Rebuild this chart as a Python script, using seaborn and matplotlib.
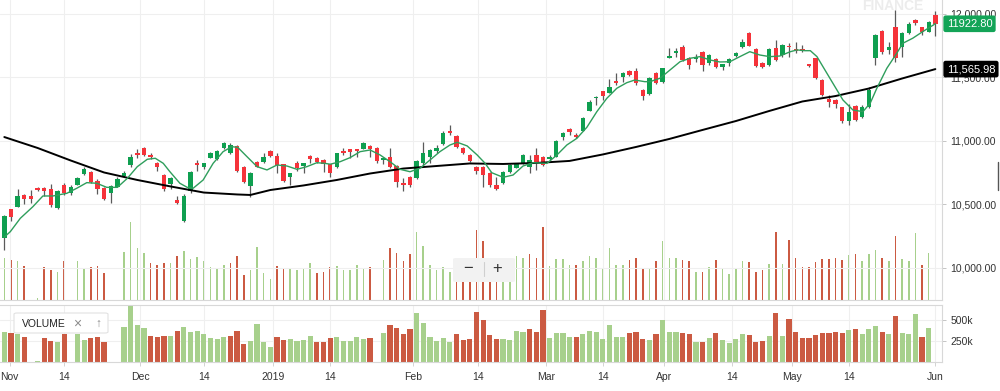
import numpy as np
import pandas as pd
import matplotlib
matplotlib.use("Agg")
import matplotlib.pyplot as plt
import matplotlib.transforms as mtransforms
from matplotlib.patches import FancyBboxPatch
from matplotlib.lines import Line2D
import seaborn as sns

# Daily candles, Nov 2018 - end of May 2019
opens = [10234, 10467, 10483, 10575, 10567, 10630, 10630, 10622, 10470, 10656,
         10593, 10656, 10738, 10756, 10687, 10632, 10588, 10640, 10724, 10811,
         10903, 10943, 10890, 10829, 10732, 10661, 10533, 10370, 10606, 10829,
         10798, 10869, 10856, 10943, 10908, 10961, 10793, 10646, 10837, 10835,
         10924, 10884, 10817, 10719, 10824, 10806, 10879, 10869, 10850, 10817,
         10793, 10920, 10935, 10935, 10937, 10963, 10947, 10850, 10872, 10803,
         10672, 10719, 10706, 10829, 10876, 10921, 10976, 11079, 11039, 10945,
         10890, 10798, 10798, 10750, 10653, 10672, 10758, 10790, 10824, 10793,
         10890, 10876, 10856, 10876, 11034, 11092, 11047, 11081, 11239, 11336,
         11392, 11380, 11475, 11502, 11554, 11554, 11402, 11370, 11538, 11467,
         11654, 11695, 11743, 11651, 11643, 11703, 11617, 11643, 11585, 11612,
         11669, 11738, 11853, 11722, 11612, 11598, 11735, 11677, 11750, 11722,
         11722, 11604, 11651, 11480, 11331, 11323, 11265, 11160, 11276, 11187,
         11265, 11651, 11869, 11717, 11900, 11743, 11848, 11953, 11895, 11861,
         11992]
highs = [10417, 10467, 10620, 10585, 10614, 10638, 10638, 10661, 10614, 10672,
         10654, 10719, 10793, 10760, 10698, 10640, 10650, 10719, 10766, 10898,
         10935, 10950, 10908, 10835, 10740, 10719, 10569, 10583, 10764, 10850,
         10830, 10912, 10928, 10994, 10982, 10971, 10800, 10758, 10845, 10903,
         10930, 10903, 10820, 10750, 10845, 10830, 10890, 10875, 10855, 10820,
         10908, 10943, 10940, 10940, 10990, 10968, 10952, 10876, 10943, 10810,
         10706, 10725, 10850, 10992, 10935, 10968, 11080, 11126, 11045, 10950,
         10895, 10803, 10803, 10758, 10719, 10762, 10815, 10820, 10895, 10890,
         10947, 10880, 10890, 11010, 11073, 11105, 11060, 11185, 11323, 11355,
         11396, 11486, 11533, 11545, 11560, 11572, 11408, 11500, 11545, 11578,
         11730, 11730, 11756, 11660, 11685, 11710, 11685, 11651, 11610, 11654,
         11700, 11801, 11860, 11730, 11620, 11730, 11795, 11760, 11769, 11782,
         11752, 11610, 11655, 11485, 11362, 11330, 11270, 11291, 11280, 11283,
         11423, 11842, 11875, 11782, 12031, 11855, 11939, 11958, 11900, 11945,
         12026]
lows = [10142, 10370, 10480, 10504, 10514, 10604, 10567, 10478, 10462, 10577,
        10572, 10650, 10730, 10667, 10583, 10535, 10509, 10635, 10720, 10798,
        10864, 10885, 10856, 10766, 10609, 10625, 10502, 10360, 10588, 10766,
        10777, 10865, 10852, 10940, 10895, 10758, 10672, 10557, 10793, 10829,
        10870, 10750, 10679, 10653, 10766, 10750, 10824, 10828, 10758, 10719,
        10790, 10890, 10864, 10876, 10935, 10876, 10824, 10819, 10785, 10635,
        10606, 10635, 10700, 10811, 10824, 10903, 10970, 11047, 10945, 10898,
        10837, 10740, 10640, 10640, 10614, 10665, 10746, 10785, 10820, 10750,
        10772, 10805, 10845, 10870, 11008, 11047, 11020, 11075, 11235, 11283,
        11323, 11375, 11441, 11467, 11515, 11441, 11323, 11365, 11445, 11460,
        11650, 11664, 11630, 11565, 11624, 11554, 11598, 11572, 11559, 11591,
        11660, 11734, 11745, 11585, 11575, 11592, 11632, 11664, 11659, 11690,
        11700, 11580, 11488, 11355, 11265, 11257, 11139, 11126, 11160, 11180,
        11260, 11598, 11685, 11685, 11624, 11664, 11843, 11915, 11835, 11855,
        11827]
closes = [10409, 10399, 10567, 10541, 10546, 10612, 10606, 10496, 10604, 10593,
          10635, 10706, 10777, 10675, 10620, 10543, 10646, 10698, 10746, 10872,
          10887, 10890, 10874, 10793, 10620, 10709, 10509, 10569, 10756, 10813,
          10824, 10908, 10924, 10982, 10966, 10766, 10677, 10750, 10798, 10876,
          10880, 10811, 10687, 10746, 10790, 10824, 10858, 10832, 10817, 10750,
          10903, 10905, 10916, 10920, 10982, 10935, 10843, 10866, 10793, 10680,
          10654, 10650, 10845, 10903, 10929, 10947, 11060, 11066, 10950, 10903,
          10843, 10764, 10732, 10653, 10620, 10758, 10811, 10815, 10890, 10850,
          10837, 10811, 10876, 11002, 11061, 11073, 11029, 11179, 11309, 11349,
          11352, 11428, 11459, 11538, 11520, 11454, 11354, 11494, 11454, 11572,
          11669, 11711, 11638, 11598, 11664, 11598, 11677, 11585, 11604, 11646,
          11690, 11782, 11750, 11591, 11580, 11722, 11638, 11756, 11738, 11709,
          11705, 11588, 11494, 11362, 11309, 11291, 11157, 11231, 11165, 11265,
          11402, 11835, 11703, 11738, 11651, 11848, 11921, 11925, 11856, 11939,
          11922.80]
# volume in thousands, None = no bar drawn
volume_k = [361, 341, 333, 294, None, 16, 282, 254, 242, 333,
            None, 333, 262, 282, 294, 234, None, None, 413, 667,
            441, 401, 314, 302, 314, 314, 373, 421, 353, 369,
            333, 282, 274, 302, 314, 373, 214, 254, 453, 234,
            175, 294, 262, 274, 254, 262, 314, 234, 242, 282,
            294, 254, 254, 302, 274, 282, None, 341, 441, 401,
            333, 389, 580, 461, 302, 254, 282, 242, 333, 262,
            270, 600, 500, 321, 274, 274, 262, 373, 361, 393,
            361, 619, 290, 349, 349, 302, 302, 333, 373, 361,
            274, 441, 302, 302, 341, 361, 270, 262, 333, 500,
            361, 361, 341, 333, 242, 242, 282, 341, 262, 222,
            270, 333, 322, 242, 254, 310, 580, 310, 508, 361,
            282, 282, 322, 349, 349, 361, 341, 381, 389, 333,
            389, 429, 361, 333, 548, 349, 333, 572, 302, 401,
            None]

# short moving average (green line), read at candle positions
ma_fast_idx = [0, 0.9, 2.4, 4.3, 5.8, 7.3, 9.4, 10.9, 12.4, 13.9, 15.4, 17.0, 18.5,
               20.0, 21.5, 22.7, 23.9, 24.9, 26.4, 27.5, 28.4, 29.9, 31.4, 32.9,
               34.2, 35.1, 36.5, 38.0, 39.5, 41.0, 42.5, 44.0, 45.5, 47.0, 48.2,
               49.0, 50.5, 52.0, 53.5, 55.0, 56.5, 58.0, 59.5, 61.0, 62.5, 64.0,
               65.5, 67.0, 68.1, 69.6, 71.1, 72.3, 73.3, 75.0, 76.5, 78.0, 79.5,
               81.6, 83.1, 84.6, 86.1, 87.6, 89.1, 90.6, 92.1, 93.6, 94.8, 96.3,
               97.1, 98.6, 100.1, 101.6, 103.1, 104.6, 106.1, 107.6, 109.1, 110.6,
               112.1, 113.6, 115.1, 116.6, 118.2, 119.2, 120.4, 121.2, 122.2,
               123.1, 124.6, 126.1, 127.6, 129.1, 130.2, 131.2, 132.7, 134.2,
               135.1, 136.6, 138.1, 139.7, 140.0]
ma_fast_val = [10244, 10286, 10391, 10483, 10567, 10567, 10588, 10628, 10672, 10667,
               10635, 10635, 10706, 10798, 10856, 10864, 10824, 10758, 10667, 10635,
               10628, 10693, 10824, 10916, 10955, 10950, 10876, 10798, 10772, 10811,
               10803, 10777, 10798, 10829, 10824, 10817, 10837, 10869, 10916, 10929,
               10890, 10837, 10777, 10758, 10785, 10850, 10916, 10968, 10990, 10961,
               10890, 10824, 10750, 10714, 10732, 10803, 10829, 10824, 10890, 10969,
               11021, 11108, 11231, 11336, 11415, 11459, 11480, 11467, 11467, 11494,
               11559, 11624, 11651, 11664, 11638, 11622, 11624, 11664, 11703, 11677,
               11664, 11669, 11703, 11717, 11711, 11711, 11664, 11585, 11454, 11323,
               11244, 11231, 11297, 11415, 11572, 11691, 11769, 11809, 11861, 11913,
               11925]

# long moving average (black line)
ma_slow_idx = [0, 5, 10, 15, 20, 25, 30, 35, 37, 40, 45, 50, 55, 60, 65, 70, 75,
               80, 85, 90, 95, 100, 105, 110, 115, 120, 125, 130, 135, 140]
ma_slow_val = [11031, 10945, 10846, 10752, 10693, 10642, 10594, 10579, 10575, 10614,
               10650, 10693, 10744, 10783, 10803, 10823, 10819, 10827, 10843, 10894,
               10953, 11016, 11087, 11157, 11236, 11311, 11354, 11413, 11492, 11565.98]

date_ticks = [0.8, 9, 20.4, 30, 40.4, 49, 61.5, 71.2, 81.5, 90, 99.2, 109.4, 118.4, 127, 140]
date_labels = ['Nov', '14', 'Dec', '14', '2019', '14', 'Feb', '14', 'Mar', '14',
               'Apr', '14', 'May', '14', 'Jun']
price_ticks = [10000, 10500, 11000, 11500, 12000]
vol_ticks = [250000, 500000]
vol_tick_labels = ['250k', '500k']

df = pd.DataFrame({'open': opens, 'high': highs, 'low': lows, 'close': closes,
                   'vol': [np.nan if v is None else v * 1000 for v in volume_k]})
df['idx'] = np.arange(len(df))
df['up'] = df['close'] >= df['open']
df['vol_up'] = df['close'].diff().fillna(1) >= 0

UP, DOWN = '#0f9f50', '#f5333a'
VUP, VDOWN = '#a7d08c', '#cb5a42'
GRID = '#efefef'
EDGE = '#d8d8d8'
TXT = '#333333'

sns.set_theme(style='white')
plt.rcParams['font.family'] = ['Liberation Sans', 'DejaVu Sans']

fig = plt.figure(figsize=(10, 3.91), dpi=100)
ax = fig.add_axes([0, 91 / 391, 0.942, 300 / 391])
axo = ax.twinx()
ax.set_zorder(axo.get_zorder() + 1)
ax.patch.set_visible(False)

# volume overlay inside the price panel
axo.bar(df['idx'], df['vol'], width=0.24,
        color=np.where(df['vol_up'], VUP, VDOWN), linewidth=0)
axo.set_ylim(0, 2.56e6)
axo.axis('off')

# candles
body_lo = df[['open', 'close']].min(axis=1)
body_h = (df['close'] - df['open']).abs().clip(lower=10)
ax.vlines(df['idx'], df['low'], df['high'], color='#5a5a5a', lw=0.9, zorder=2)
ax.bar(df['idx'], body_h, bottom=body_lo, width=0.66,
       color=np.where(df['up'], UP, DOWN), linewidth=0, zorder=3)

sns.lineplot(x=ma_slow_idx, y=ma_slow_val, ax=ax, color='black', lw=1.4, zorder=4)
sns.lineplot(x=ma_fast_idx, y=ma_fast_val, ax=ax, color='#2f9e5c', lw=1.0, zorder=5)

ax.set_xlim(-0.65, 141.0)
ax.set_ylim(9748, 12110)
ax.set_xticks(date_ticks)
ax.set_yticks(price_ticks)
ax.set_yticklabels([f'{p:,.2f}' for p in price_ticks])
ax.yaxis.tick_right()
ax.grid(True, color=GRID, lw=0.8)
ax.tick_params(axis='x', length=0, labelbottom=False)
ax.tick_params(axis='y', right=True, length=3, width=0.6, color='#bbbbbb',
               pad=3, labelsize=7.5, labelcolor=TXT)
ax.set_xlabel('')
ax.set_ylabel('')
for s in ['left', 'top']:
    ax.spines[s].set_visible(False)
for s in ['right', 'bottom']:
    ax.spines[s].set_color(EDGE)
    ax.spines[s].set_linewidth(0.8)

# last price / moving average tags
trans = mtransforms.blended_transform_factory(ax.transAxes, ax.transData)
ax.text(1.005, closes[-1], f'{closes[-1]:.2f}', transform=trans, ha='left', va='center',
        color='white', fontsize=8, clip_on=False, zorder=10,
        bbox=dict(boxstyle='round,pad=0.3,rounding_size=0.2', fc='#13a457', ec='none'))
ax.text(1.005, ma_slow_val[-1], f'{ma_slow_val[-1]:,.2f}', transform=trans, ha='left',
        va='center', color='white', fontsize=8, clip_on=False, zorder=10,
        bbox=dict(boxstyle='round,pad=0.3,rounding_size=0.2', fc='black', ec='none'))

# lower volume panel
axl = fig.add_axes([0, 29 / 391, 0.942, 57 / 391])
axl.bar(df['idx'], df['vol'], width=0.78,
        color=np.where(df['vol_up'], VUP, VDOWN), linewidth=0)
axl.set_xlim(-0.65, 141.0)
axl.set_ylim(0, 679000)
axl.set_yticks(vol_ticks)
axl.set_yticklabels(vol_tick_labels)
axl.yaxis.tick_right()
axl.set_xticks(date_ticks)
axl.set_xticklabels(date_labels)
axl.grid(True, color=GRID, lw=0.8)
axl.tick_params(axis='y', right=True, length=3, width=0.6, color='#bbbbbb',
                pad=3, labelsize=7.5, labelcolor=TXT)
axl.tick_params(axis='x', bottom=True, length=3, width=0.6, color='#cccccc',
                pad=4, labelsize=7.5, labelcolor=TXT)
axl.spines['left'].set_visible(False)
for s in ['right', 'bottom', 'top']:
    axl.spines[s].set_color(EDGE)
    axl.spines[s].set_linewidth(0.8)

# chart widgets
fig.add_artist(FancyBboxPatch((14 / 1000, 1 - 333 / 391), 94 / 1000, 20 / 391,
                              boxstyle='round,pad=0,rounding_size=0.003',
                              transform=fig.transFigure, fc='white', ec='#e2e2e2',
                              lw=0.8, zorder=6))
fig.text(22 / 1000, 1 - 324 / 391, 'VOLUME', ha='left', va='center', fontsize=7.5,
         color='#222222', zorder=7)
fig.text(77 / 1000, 1 - 324 / 391, '\u00d7', ha='center', va='center', fontsize=10,
         color='#8a8a8a', zorder=7)
fig.text(98 / 1000, 1 - 324 / 391, '\u2191', ha='center', va='center', fontsize=8.5,
         color='#8a8a8a', zorder=7)

fig.add_artist(FancyBboxPatch((453 / 1000, 1 - 282 / 391), 62 / 1000, 24 / 391,
                              boxstyle='round,pad=0,rounding_size=0.003',
                              transform=fig.transFigure, fc='#f2f2f2', ec='none',
                              zorder=6))
fig.text(468 / 1000, 1 - 269 / 391, '\u2212', ha='center', va='center', fontsize=12,
         color='#333333', zorder=7)
fig.text(497 / 1000, 1 - 269 / 391, '+', ha='center', va='center', fontsize=12,
         color='#333333', zorder=7)
fig.add_artist(Line2D([484 / 1000, 484 / 1000], [1 - 262 / 391, 1 - 276 / 391],
                      transform=fig.transFigure, color='#cfcfcf', lw=0.8, zorder=7))

fig.text(893 / 1000, 1 - 6 / 391, 'FINANCE', ha='center', va='center', fontsize=10,
         color='#ececec', weight='bold', zorder=1)
fig.add_artist(Line2D([998 / 1000, 998 / 1000], [1 - 162 / 391, 1 - 190 / 391],
                      transform=fig.transFigure, color='#555555', lw=1.0))

fig.savefig('out.png', dpi=100)
